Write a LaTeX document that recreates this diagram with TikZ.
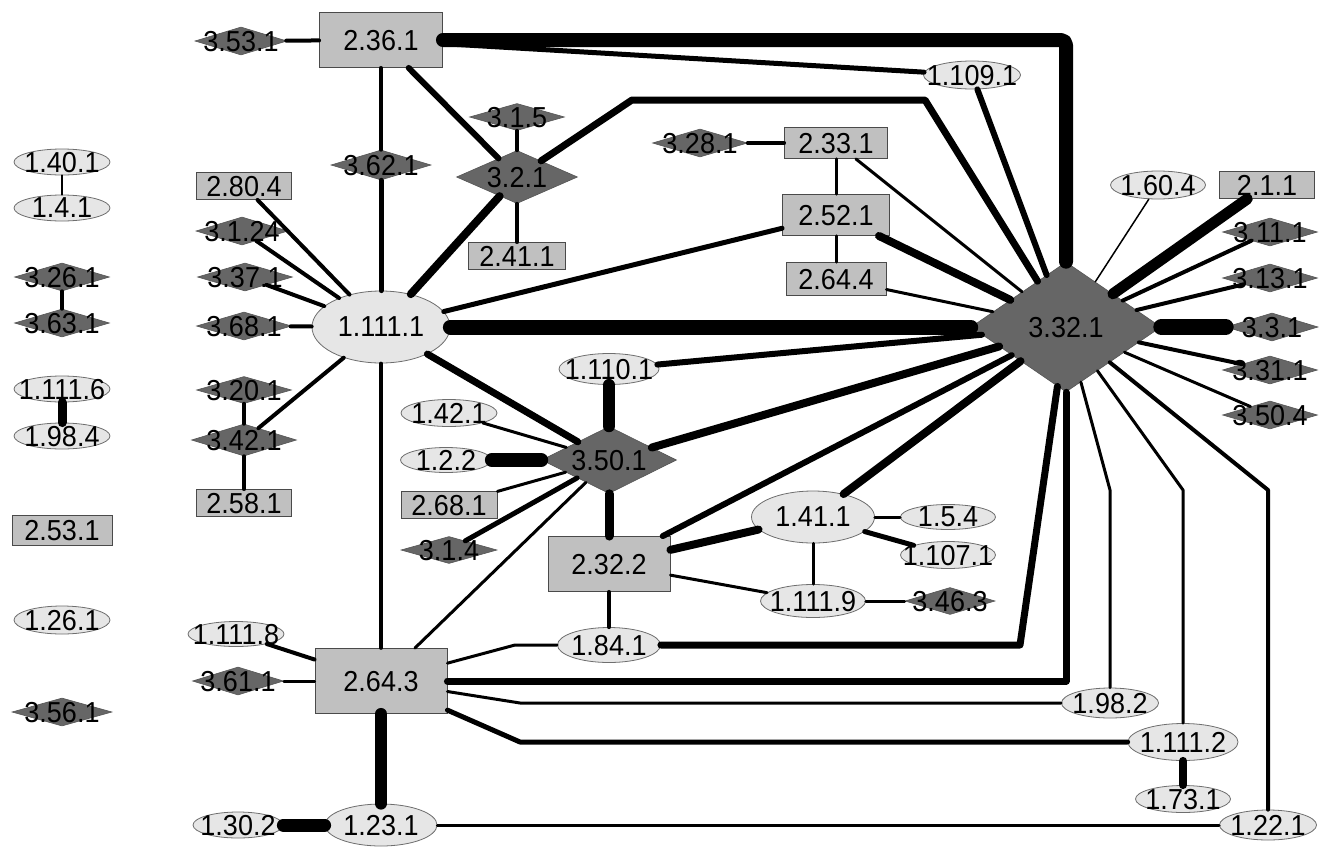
\documentclass[tikz,border=0pt]{standalone}
\usepackage{fontspec}
\usepackage{graphicx}
\setmainfont{Liberation Sans}
\usetikzlibrary{shapes.geometric}
\definecolor{ellfill}{HTML}{E6E6E6}
\definecolor{ellline}{HTML}{6E6E6E}
\definecolor{boxfill}{HTML}{C0C0C0}
\definecolor{boxline}{HTML}{4A4A4A}
\definecolor{diafill}{HTML}{666666}
\definecolor{dialine}{HTML}{555555}
\newcommand\zlab[1]{\makebox[0pt][c]{\raisebox{-0.5\height}[0pt][0pt]{\scalebox{1}[1.07]{#1}}}}
\begin{document}
\begin{tikzpicture}[x=1pt,y=-1pt, font=\fontsize{27}{29}\selectfont,
 ell/.style={ellipse, draw=ellline, fill=ellfill, line width=0.8pt, inner sep=0pt},
 rbox/.style={rectangle, draw=boxline, fill=boxfill, line width=0.9pt, inner sep=0pt},
 dia/.style={diamond, draw=dialine, fill=diafill, line width=0.6pt, inner sep=0pt},
 sz/.style 2 args={minimum width=#1pt, minimum height=#2pt},
 cn/.style={line width=#1pt, line cap=round, line join=round, draw=black},
]
\fill[white] (0,0) rectangle (1319,846);
\useasboundingbox (0,0) rectangle (1319,846);

% ellipses
\node[ell, sz={96}{26}] (e1401) at (62,162) {\zlab{1.40.1}};
\node[ell, sz={96}{26}] (e141) at (62,208) {\zlab{1.4.1}};
\node[ell, sz={96}{26}] (e11116) at (62,389) {\zlab{1.111.6}};
\node[ell, sz={96}{26}] (e984) at (62,436) {\zlab{1.98.4}};
\node[ell, sz={96}{28}] (e261) at (62,620) {\zlab{1.26.1}};
\node[ell, sz={96}{25}] (e11118) at (236,634) {\zlab{1.111.8}};
\node[ell, sz={90}{26}] (e302) at (238,825) {\zlab{1.30.2}};
\node[ell, sz={112}{42}] (e1231) at (381,825) {\zlab{1.23.1}};
\node[ell, sz={138}{72}] (e11111) at (381,327) {\zlab{1.111.1}};
\node[ell, sz={100}{31}] (e1101) at (609,369) {\zlab{1.110.1}};
\node[ell, sz={96}{27}] (e421) at (449,413) {\zlab{1.42.1}};
\node[ell, sz={91}{25}] (e122) at (446,460) {\zlab{1.2.2}};
\node[ell, sz={103}{35}] (e841) at (609,645) {\zlab{1.84.1}};
\node[ell, sz={123}{52}] (e411) at (813,517) {\zlab{1.41.1}};
\node[ell, sz={95}{25}] (e154) at (948,517) {\zlab{1.5.4}};
\node[ell, sz={95}{27}] (e1071) at (948,555) {\zlab{1.107.1}};
\node[ell, sz={105}{33}] (e11119) at (813,601) {\zlab{1.111.9}};
\node[ell, sz={97}{30}] (e982) at (1110,703) {\zlab{1.98.2}};
\node[ell, sz={110}{37}] (e11112) at (1183,742) {\zlab{1.111.2}};
\node[ell, sz={95}{27}] (e731) at (1183,799) {\zlab{1.73.1}};
\node[ell, sz={97}{30}] (e221) at (1268,825) {\zlab{1.22.1}};
\node[ell, sz={97}{28}] (e1091) at (972,75) {\zlab{1.109.1}};
\node[ell, sz={95}{28}] (e604) at (1158,185) {\zlab{1.60.4}};

% boxes
\node[rbox, sz={123}{55}] (b2361) at (381,40) {\zlab{2.36.1}};
\node[rbox, sz={95}{27}] (b804) at (244,186) {\zlab{2.80.4}};
\node[rbox, sz={97}{27}] (b411) at (517,256) {\zlab{2.41.1}};
\node[rbox, sz={95}{27}] (b581) at (244,503) {\zlab{2.58.1}};
\node[rbox, sz={100}{30}] (b531) at (62,530) {\zlab{2.53.1}};
\node[rbox, sz={96}{27}] (b681) at (449,505) {\zlab{2.68.1}};
\node[rbox, sz={122}{55}] (b2322) at (609,564) {\zlab{2.32.2}};
\node[rbox, sz={132}{65}] (b2643) at (381,681) {\zlab{2.64.3}};
\node[rbox, sz={103}{31}] (b331) at (836,143) {\zlab{2.33.1}};
\node[rbox, sz={107}{41}] (b521) at (836,215) {\zlab{2.52.1}};
\node[rbox, sz={100}{33}] (b644) at (836,279) {\zlab{2.64.4}};
\node[rbox, sz={95}{27}] (b211) at (1267,185) {\zlab{2.1.1}};

% diamonds
\node[dia, sz={92}{28}] (d531) at (241,41) {\zlab{3.53.1}};
\node[dia, sz={100}{30}] (d621) at (381,165) {\zlab{3.62.1}};
\node[dia, sz={95}{27}] (d315) at (517,117) {\zlab{3.1.5}};
\node[dia, sz={121}{53}] (d321) at (517,177) {\zlab{3.2.1}};
\node[dia, sz={92}{28}] (d3124) at (242,231) {\zlab{3.1.24}};
\node[dia, sz={95}{28}] (d371) at (245,277) {\zlab{3.37.1}};
\node[dia, sz={95}{28}] (d681) at (244,326) {\zlab{3.68.1}};
\node[dia, sz={95}{27}] (d201) at (244,390) {\zlab{3.20.1}};
\node[dia, sz={105}{32}] (d421) at (244,440) {\zlab{3.42.1}};
\node[dia, sz={95}{28}] (d261) at (62,277) {\zlab{3.26.1}};
\node[dia, sz={95}{28}] (d631) at (62,323) {\zlab{3.63.1}};
\node[dia, sz={100}{28}] (d561) at (62,712) {\zlab{3.56.1}};
\node[dia, sz={91}{28}] (d611) at (238,681) {\zlab{3.61.1}};
\node[dia, sz={95}{28}] (d281) at (700,143) {\zlab{3.28.1}};
\node[dia, sz={190}{130}] (d3321) at (1066,327) {\zlab{3.32.1}};
\node[dia, sz={95}{28}] (d111) at (1270,232) {\zlab{3.11.1}};
\node[dia, sz={95}{28}] (d131) at (1270,278) {\zlab{3.13.1}};
\node[dia, sz={92}{28}] (d31) at (1272,327) {\zlab{3.3.1}};
\node[dia, sz={95}{28}] (d311) at (1270,370) {\zlab{3.31.1}};
\node[dia, sz={95}{28}] (d504) at (1270,415) {\zlab{3.50.4}};
\node[dia, sz={135}{67}] (d501) at (609,460) {\zlab{3.50.1}};
\node[dia, sz={96}{27}] (d314) at (449,550) {\zlab{3.1.4}};
\node[dia, sz={90}{27}] (d463) at (950,601) {\zlab{3.46.3}};

% connectors
\draw[cn=4] (d531) -- (b2361);
\draw[cn=14, rounded corners=5pt] (b2361) -- (1066,40) -- (d3321);
\draw[cn=5] (b2361) -- (e1091);
\draw[cn=4] (b2361) -- (d621);
\draw[cn=5] (d621) -- (e11111);
\draw[cn=6] (b2361) -- (d321);
\draw[cn=4] (d315) -- (d321);
\draw[cn=4] (d321) -- (b411);
\draw[cn=7] (d321) -- (632,100) -- (925,100) -- (d3321);
\draw[cn=8] (d321) -- (e11111);
\draw[cn=4] (b804) -- (e11111);
\draw[cn=4] (d3124) -- (e11111);
\draw[cn=4] (d371) -- (e11111);
\draw[cn=4] (d681) -- (e11111);
\draw[cn=4] (d421) -- (e11111);
\draw[cn=4] (d201) -- (d421);
\draw[cn=4] (d421) -- (b581);
\draw[cn=15] (e11111) -- (d3321);
\draw[cn=5] (e11111) -- (b521);
\draw[cn=7] (e11111) -- (d501);
\draw[cn=3.5] (e11111) -- (b2643);
\draw[cn=4] (d281) -- (b331);
\draw[cn=3] (b331) -- (b521);
\draw[cn=3] (b521) -- (b644);
\draw[cn=3] (b331) -- (d3321);
\draw[cn=8] (b521) -- (d3321);
\draw[cn=3] (b644) -- (d3321);
\draw[cn=6] (e1091) -- (d3321);
\draw[cn=1.5] (e604) -- (d3321);
\draw[cn=11] (b211) -- (d3321);
\draw[cn=4] (d111) -- (d3321);
\draw[cn=4] (d131) -- (d3321);
\draw[cn=16] (d3321) -- (d31);
\draw[cn=4] (d311) -- (d3321);
\draw[cn=3] (d504) -- (d3321);
\draw[cn=6] (e1101) -- (d3321);
\draw[cn=8] (d501) -- (d3321);
\draw[cn=6] (b2322) -- (d3321);
\draw[cn=8] (e411) -- (d3321);
\draw[cn=7] (e841) -- (1020,645) -- (d3321);
\draw[cn=7] (b2643) -- (1066,681) -- (d3321);
\draw[cn=3] (e982) -- (1110,490) -- (d3321);
\draw[cn=3] (e11112) -- (1183,490) -- (d3321);
\draw[cn=4] (e221) -- (1268,490) -- (d3321);
\draw[cn=12] (e1101) -- (d501);
\draw[cn=3] (e421) -- (d501);
\draw[cn=14] (e122) -- (d501);
\draw[cn=3] (b681) -- (d501);
\draw[cn=5] (d314) -- (d501);
\draw[cn=3] (d501) -- (b2643);
\draw[cn=9] (d501) -- (b2322);
\draw[cn=8] (b2322) -- (e411);
\draw[cn=3] (b2322) -- (e11119);
\draw[cn=4] (b2322) -- (e841);
\draw[cn=3] (e411) -- (e154);
\draw[cn=5] (e411) -- (e1071);
\draw[cn=3] (e411) -- (e11119);
\draw[cn=3] (e11119) -- (d463);
\draw[cn=4] (e11118) -- (b2643);
\draw[cn=3] (d611) -- (b2643);
\draw[cn=3] (b2643) -- (515,645) -- (e841);
\draw[cn=3] (b2643) -- (520,703) -- (e982);
\draw[cn=5] (b2643) -- (520,742) -- (e11112);
\draw[cn=12] (b2643) -- (e1231);
\draw[cn=13] (e302) -- (e1231);
\draw[cn=3] (e1231) -- (e221);
\draw[cn=8] (e11112) -- (e731);
\draw[cn=2] (e1401) -- (e141);
\draw[cn=4] (d261) -- (d631);
\draw[cn=9] (e11116) -- (e984);
\end{tikzpicture}
\end{document}
